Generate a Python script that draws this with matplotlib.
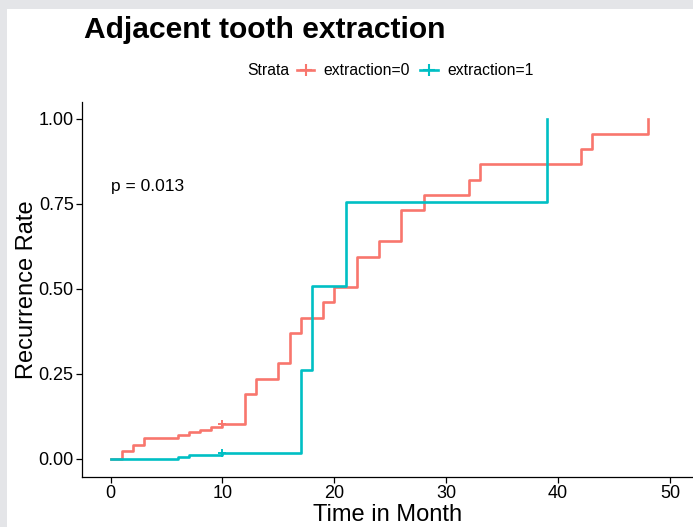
import matplotlib
matplotlib.use("Agg")
import matplotlib.pyplot as plt
from matplotlib.lines import Line2D
from matplotlib.patches import Rectangle

plt.rcParams['font.family'] = ['Liberation Sans', 'DejaVu Sans']

# step data (cumulative recurrence)
t0 = [0, 1, 2, 3, 6, 7, 8, 9, 10, 12, 13, 15, 16, 17, 19, 20, 22, 24, 26, 28, 32, 33, 42, 43, 48]
r0 = [0, 0.024, 0.040, 0.062, 0.070, 0.078, 0.086, 0.094, 0.103, 0.191, 0.236, 0.282, 0.372,
      0.416, 0.461, 0.505, 0.595, 0.642, 0.731, 0.776, 0.821, 0.867, 0.911, 0.957, 1.0]
t1 = [0, 6, 7, 10, 17, 18, 21, 39]
r1 = [0, 0.007, 0.012, 0.017, 0.262, 0.510, 0.755, 1.0]
cens0_t, cens0_r = [10], [0.103]
cens1_t, cens1_r = [10], [0.017]
labels = ['extraction=0', 'extraction=1']
colors = ['#F8766D', '#00BFC4']
xticks = [0, 10, 20, 30, 40, 50]
yticks = [0, 0.25, 0.5, 0.75, 1.0]

W, H = 693, 527
fig = plt.figure(figsize=(W / 100, H / 100), dpi=100)
fig.patch.set_facecolor('#e4e5e8')
fig.patches.append(Rectangle((7 / W, 0), 1, 1 - 9 / H, transform=fig.transFigure,
                             facecolor='white', edgecolor='none', zorder=-10))

ax = fig.add_axes([82 / W, 50 / H, 1 - 82 / W, (477 - 102) / H])
ax.set_facecolor('white')

ax.step(t0, r0, where='post', color=colors[0], lw=1.9)
ax.step(t1, r1, where='post', color=colors[1], lw=1.9)
ax.plot(cens0_t, cens0_r, '+', color=colors[0], ms=6, mew=1.4)
ax.plot(cens1_t, cens1_r, '+', color=colors[1], ms=6, mew=1.4)

ax.set_xlim(-2.55, 52.05)
ax.set_ylim(-0.053, 1.05)
ax.set_xticks(xticks)
ax.set_yticks(yticks)
ax.set_yticklabels(['%.2f' % v for v in yticks])
ax.tick_params(labelsize=13, length=4, width=0.9, colors='black', pad=2)
for s in ['top', 'right']:
    ax.spines[s].set_visible(False)
for s in ['left', 'bottom']:
    ax.spines[s].set_linewidth(0.9)

ax.set_xlabel('Time in Month', fontsize=17, labelpad=1)
ax.set_ylabel('Recurrence Rate', fontsize=17, labelpad=0)

ax.text(0, 0.8, 'p = 0.013', fontsize=12.5, ha='left', va='center')

fig.text(84 / W, 1 - 38 / H, 'Adjacent tooth extraction', fontsize=21.6,
         fontweight='bold', ha='left', va='baseline')

fig.text(247 / W, 1 - 70.5 / H, 'Strata', fontsize=11.3, ha='left', va='center')
handles = [Line2D([], [], color=c, lw=1.9, marker='+', ms=8, mew=1.5) for c in colors]
fig.legend(handles, labels, loc='center left', bbox_to_anchor=(297 / W, 1 - 70.5 / H),
           ncol=2, frameon=False, fontsize=11.3, handlelength=1.1, handletextpad=0.6,
           columnspacing=0.65, borderpad=0, borderaxespad=0, numpoints=1)

fig.savefig('out.png', dpi=100)
